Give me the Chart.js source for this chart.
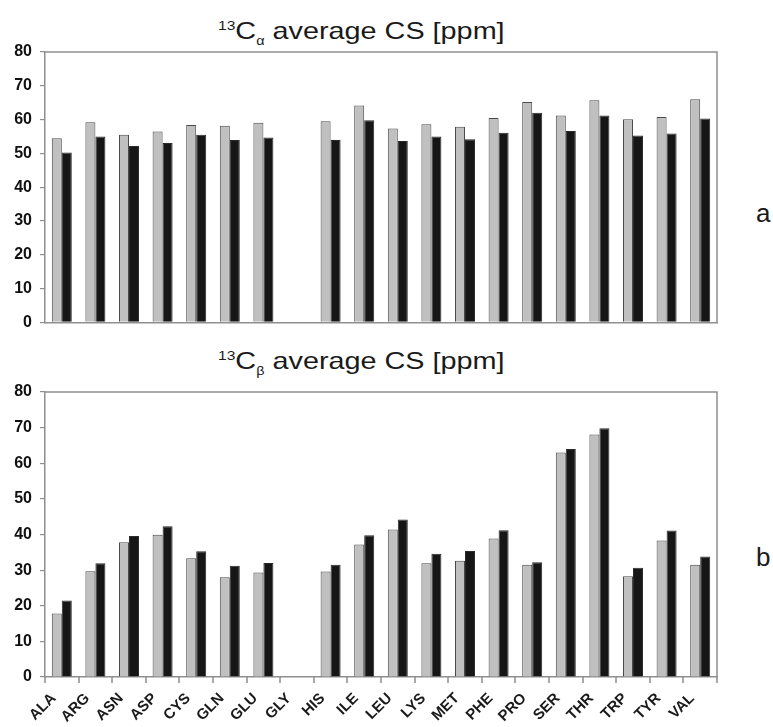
<!DOCTYPE html>
<html>
<head>
<meta charset="utf-8">
<script src="https://cdn.jsdelivr.net/npm/chart.js@4"></script>
<style>
  body { margin: 0; background: #fff; }
  #wrap { position: relative; width: 773px; height: 727px; font-family: 'Liberation Sans', Arial, sans-serif; color: #1a1a1a; overflow: hidden; }
  canvas { position: absolute; left: 0; }
  .ttl { position: absolute; left: 218px; font-size: 24px; line-height: 1; white-space: nowrap; transform: scaleX(1.2); transform-origin: left top; }
  .ttl sup { font-size: 13px; vertical-align: 9px; }
  .ttl sub { font-size: 12px; vertical-align: -6px; }
  .tag { position: absolute; left: 756px; font-size: 26px; line-height: 1; }
  #xnames { position: absolute; left: 0; top: 0; }
  #xnames text { font-family: 'Liberation Sans', Arial, sans-serif; font-size: 15px; font-weight: bold; fill: #1a1a1a; }
</style>
</head>
<body>
<div id="wrap">
  <div class="ttl" style="top:19px"><sup>13</sup>C<sub>α</sub> average CS [ppm]</div>
  <div class="ttl" style="top:349px"><sup>13</sup>C<sub>β</sub> average CS [ppm]</div>
  <div class="tag" style="top:200px">a</div>
  <div class="tag" style="top:544px">b</div>
  <canvas id="alphaChart" width="773" height="340" style="top:0"></canvas>
  <canvas id="betaChart" width="773" height="387" style="top:340px"></canvas>
  <svg id="xnames" width="773" height="727" xmlns="http://www.w3.org/2000/svg"></svg>
</div>
<script>
// ---------- DATA ----------
const residues = ['ALA', 'ARG', 'ASN', 'ASP', 'CYS', 'GLN', 'GLU', 'GLY', 'HIS', 'ILE',
                  'LEU', 'LYS', 'MET', 'PHE', 'PRO', 'SER', 'THR', 'TRP', 'TYR', 'VAL'];

// C-alpha, grey and black bars (GLY has no value)
const alphaGrey  = [54.5, 59.2, 55.5, 56.5, 58.4, 58.2, 59.1, null, 59.5, 64.2,
                    57.4, 58.6, 57.9, 60.5, 65.2, 61.2, 65.7, 60.1, 60.8, 66.0];
const alphaBlack = [50.3, 55.0, 52.2, 53.1, 55.5, 54.0, 54.7, null, 54.0, 59.8,
                    53.7, 55.0, 54.2, 56.1, 62.0, 56.6, 61.2, 55.3, 55.9, 60.3];

// C-beta
const betaGrey  = [17.8, 29.7, 37.8, 39.9, 33.3, 28.0, 29.3, null, 29.6, 37.2,
                   41.4, 31.9, 32.6, 38.9, 31.5, 63.0, 68.1, 28.3, 38.3, 31.5];
const betaBlack = [21.5, 31.9, 39.6, 42.3, 35.3, 31.2, 32.0, null, 31.5, 39.8,
                   44.2, 34.6, 35.4, 41.2, 32.2, 64.0, 69.8, 30.7, 41.1, 33.8];

const yTicks = [0, 10, 20, 30, 40, 50, 60, 70, 80];

// ---------- STYLE ----------
const FONT = "'Liberation Sans', Arial, sans-serif";
const AXIS = '#8f8f8f';

// top + right edge of the plot box, plus the tick marks between categories
const framePlugin = {
    id: 'frame',
    afterDraw(chart, args, opts) {
        const { ctx, chartArea: a, scales: { x } } = chart;
        ctx.save();
        ctx.strokeStyle = AXIS;
        ctx.lineWidth = 1.5;
        ctx.beginPath();
        ctx.moveTo(a.left, a.top);
        ctx.lineTo(a.right, a.top);
        ctx.lineTo(a.right, a.bottom);
        if (opts.ticks) {
            const step = (a.right - a.left) / residues.length;
            for (let i = 0; i <= residues.length; i++) {
                const px = Math.round(x.getPixelForTick(Math.min(i, residues.length - 1)) + (i < residues.length ? -step / 2 : step / 2));
                ctx.moveTo(px, a.bottom);
                ctx.lineTo(px, a.bottom + 6);
            }
        }
        ctx.stroke();
        ctx.restore();
    }
};

function makeChart(canvasId, grey, black, showTicks) {
    const xHeight = showTicks ? 50 : 4;
    return new Chart(document.getElementById(canvasId), {
        type: 'bar',
        data: {
            labels: residues,
            datasets: [
                { label: 'grey', data: grey, backgroundColor: '#c0c0c0', borderColor: '#4a4a4a', borderWidth: 1 },
                { label: 'black', data: black, backgroundColor: '#161616', borderColor: '#2a2a2a', borderWidth: 1 }
            ]
        },
        options: {
            responsive: false,
            animation: false,
            layout: { padding: { top: 52, right: 56, left: 0, bottom: 0 } },
            datasets: { bar: { categoryPercentage: 0.595, barPercentage: 1 } },
            plugins: {
                legend: { display: false }, tooltip: { enabled: false }, title: { display: false },
                frame: { ticks: showTicks }
            },
            scales: {
                x: {
                    grid: { display: false },
                    border: { display: true, color: AXIS, width: 1.5 },
                    ticks: { display: false },
                    afterFit: s => { s.height = xHeight; }
                },
                y: {
                    min: 0, max: 80,
                    afterBuildTicks: s => { s.ticks = yTicks.map(v => ({ value: v })); },
                    grid: { drawOnChartArea: false, tickLength: 5, color: AXIS, lineWidth: 1.2 },
                    border: { display: true, color: AXIS, width: 1.5 },
                    ticks: { padding: 8, color: '#111', font: { family: FONT, size: 16, weight: 'bold' } },
                    afterFit: s => { s.width = 45; }
                }
            }
        },
        plugins: [framePlugin]
    });
}

makeChart('alphaChart', alphaGrey, alphaBlack, false);
const betaChart = makeChart('betaChart', betaGrey, betaBlack, true);

// slanted residue names under the lower chart, placed from its x scale
const svg = document.getElementById('xnames');
const canvasTop = 340;
residues.forEach((name, i) => {
    const ax = betaChart.scales.x.getPixelForTick(i) - 9;
    const ay = canvasTop + betaChart.chartArea.bottom + 18;
    const t = document.createElementNS('http://www.w3.org/2000/svg', 'text');
    t.setAttribute('x', ax.toFixed(1));
    t.setAttribute('y', ay.toFixed(1));
    t.setAttribute('text-anchor', 'end');
    t.setAttribute('dominant-baseline', 'central');
    t.setAttribute('transform', `rotate(-45 ${ax.toFixed(1)} ${ay.toFixed(1)})`);
    t.textContent = name;
    svg.appendChild(t);
});
</script>
</body>
</html>
